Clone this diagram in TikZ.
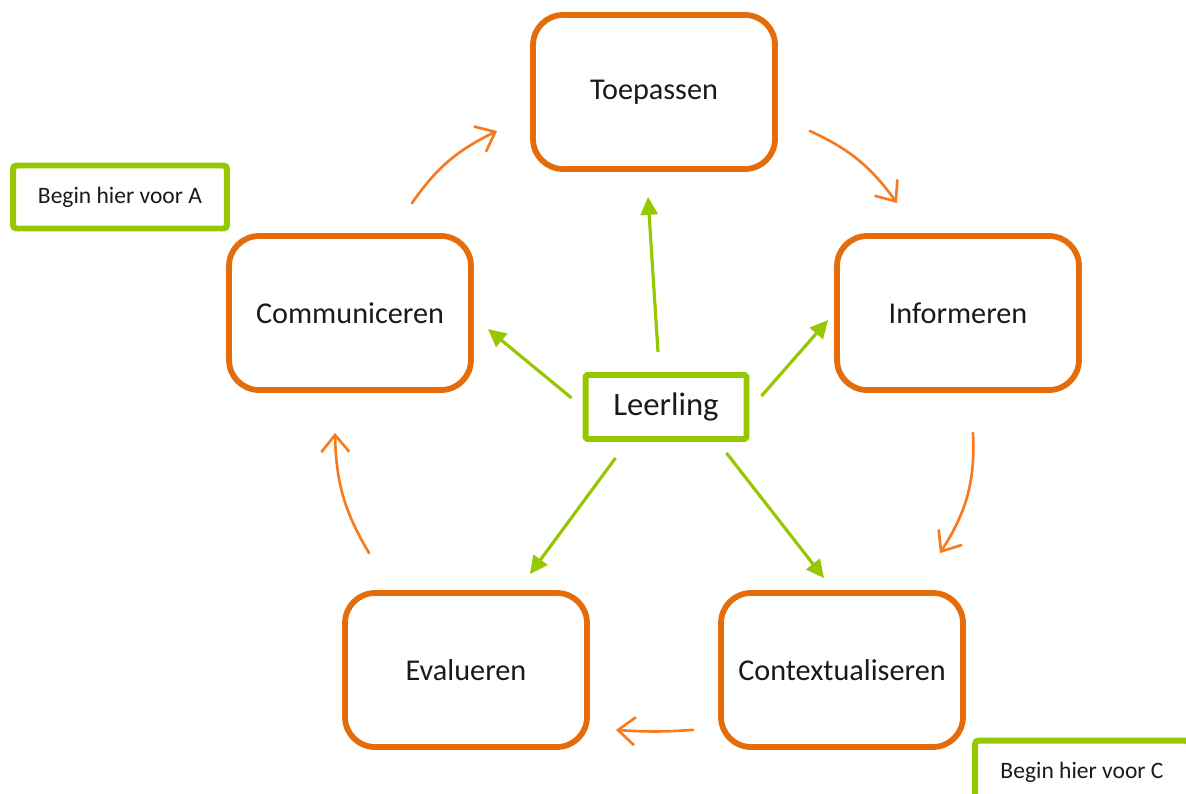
\documentclass[tikz,border=0pt]{standalone}
\usepackage{fontspec}
\setmainfont{Carlito}
\usetikzlibrary{arrows.meta,bending}
\definecolor{boxorange}{HTML}{E46C0A}
\definecolor{arroworange}{HTML}{F97A1E}
\definecolor{leergreen}{HTML}{95C800}
\definecolor{textdark}{HTML}{1A1A1A}
\begin{document}
\begin{tikzpicture}[x=0.02cm,y=-0.02cm,
  procbox/.style={draw=boxorange,line width=3.3pt,rounded corners=0.6cm,minimum width=4.84cm,minimum height=3.08cm,text=textdark,font=\fontsize{17.2}{20}\selectfont},
  leerbox/.style={draw=leergreen,line width=3.4pt,rounded corners=1pt,minimum width=3.22cm,minimum height=1.28cm,text=textdark,font=\fontsize{18.6}{22}\selectfont},
  startbox/.style={draw=leergreen,line width=3.4pt,rounded corners=2pt,minimum width=4.28cm,minimum height=1.26cm,text=textdark,font=\fontsize{13.4}{16}\selectfont},
  cyclearrow/.style={draw=arroworange,line width=1.5pt,line cap=round,-{Straight Barb[length=3.4mm,width=5.6mm,line width=1.5pt]}},
  leerarrow/.style={draw=leergreen,line width=1.8pt,-{Triangle[length=3.6mm,width=3.4mm]}}]
\clip (0,0) rectangle (1186,794);
\fill[white] (0,0) rectangle (1186,794);
\node[procbox] (toep) at (654,92) {Toepassen};
\node[procbox] (info) at (958,313) {Informeren};
\node[procbox] (comm) at (350,313) {Communiceren};
\node[procbox] (eval) at (466,670) {Evalueren};
\node[procbox] (cont) at (842,670) {Contextualiseren};
\node[leerbox] (leer) at (666,407) {Leerling};
\node[startbox] (begA) at (120,197) {Begin hier voor A};
\node[startbox] (begC) at (1082,772) {Begin hier voor C};
\draw[leerarrow] ([xshift=-0.16cm,yshift=0.4cm]leer.north) -- ([xshift=-0.12cm,yshift=-0.5cm]toep.south);
\draw[leerarrow] ([xshift=-0.22cm,yshift=0.18cm]leer.west) -- ([xshift=0.28cm,yshift=-0.32cm]comm.east);
\draw[leerarrow] ([xshift=0.24cm,yshift=0.22cm]leer.east) -- ([xshift=-0.12cm,yshift=-0.14cm]info.west);
\draw[leerarrow] ([xshift=0.66cm,yshift=-0.32cm]leer.south west) -- ([xshift=-1.2cm,yshift=0.32cm]eval.north east);
\draw[leerarrow] ([xshift=-0.46cm,yshift=-0.22cm]leer.south east) -- ([xshift=-0.36cm,yshift=0.24cm]cont.north);
\draw[cyclearrow] ([xshift=1.24cm,yshift=0.6cm]comm.north) to[bend left=15] ([xshift=-0.66cm,yshift=-0.78cm]toep.west);
\draw[cyclearrow] ([xshift=0.64cm,yshift=-0.78cm]toep.east) to[bend left=15] ([xshift=-1.22cm,yshift=0.6cm]info.north);
\draw[cyclearrow] ([xshift=0.3cm,yshift=-0.8cm]info.south) to[bend left=18] ([xshift=-0.52cm,yshift=0.74cm]cont.north east);
\draw[cyclearrow] ([xshift=-0.5cm,yshift=0.4cm]cont.south west) to[bend left=4] ([xshift=0.52cm,yshift=0.4cm]eval.south east);
\draw[cyclearrow] ([xshift=0.54cm,yshift=0.74cm]eval.north west) to[bend left=15] ([xshift=-0.3cm,yshift=-0.8cm]comm.south);
\end{tikzpicture}
\end{document}
